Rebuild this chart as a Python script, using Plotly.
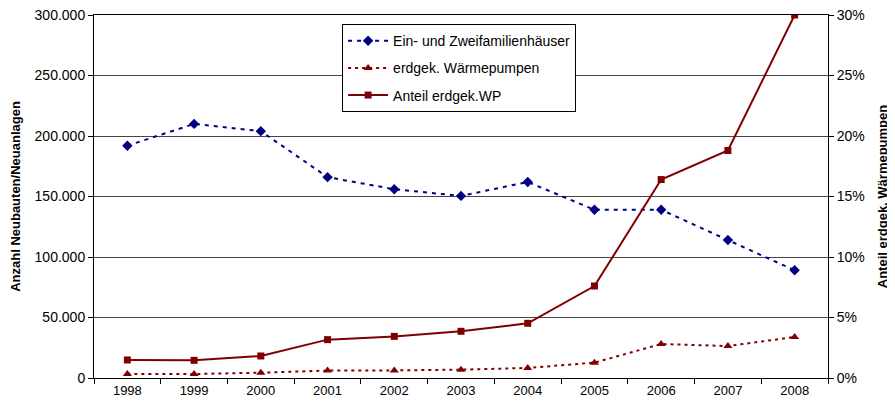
import plotly.graph_objects as go

years = ["1998", "1999", "2000", "2001", "2002", "2003", "2004", "2005", "2006", "2007", "2008"]
houses = [192000, 210000, 204000, 166000, 156000, 150500, 162000, 139000, 139000, 114000, 89000]
heat_pumps = [3300, 3300, 4400, 6100, 6300, 6900, 8300, 12700, 28100, 26400, 33900]
share = [0.0149, 0.0146, 0.0182, 0.0317, 0.0344, 0.0386, 0.0452, 0.076, 0.164, 0.188, 0.300]

left_ticks = [0, 50000, 100000, 150000, 200000, 250000, 300000]
right_ticks = [0, 0.05, 0.10, 0.15, 0.20, 0.25, 0.30]

blue = "#000080"
red = "#800000"
font = "Liberation Sans, Arial, sans-serif"

fig = go.Figure()
fig.add_trace(go.Scatter(
    x=years, y=houses, name="Ein- und Zweifamilienhäuser", mode="lines+markers",
    line=dict(color=blue, width=2, dash="4px,5px"),
    marker=dict(symbol="diamond", size=8, color=blue),
    legendgroup="a", yaxis="y"))
fig.add_trace(go.Scatter(
    x=years, y=heat_pumps, name="erdgek. Wärmepumpen", mode="lines+markers",
    line=dict(color=red, width=2, dash="3px,4px"),
    marker=dict(symbol="triangle-up", size=8, color=red),
    legendgroup="b", yaxis="y"))
fig.add_trace(go.Scatter(
    x=years, y=share, name="Anteil erdgek.WP", mode="lines+markers",
    line=dict(color=red, width=2),
    marker=dict(symbol="square", size=7, color=red),
    legendgroup="c", yaxis="y2"))

# page body has an 8px default margin, so the figure is 8px smaller each way
fig.update_layout(
    width=887, height=406,
    margin=dict(l=86, r=67, t=7, b=36, autoexpand=False),
    paper_bgcolor="white", plot_bgcolor="white",
    font=dict(family=font, size=13, color="black"),
    separators=",.",
    showlegend=True,
    legend=dict(
        x=0.338, y=0.975, xanchor="left", yanchor="top",
        bgcolor="white", bordercolor="black", borderwidth=1,
        font=dict(size=14), tracegroupgap=6,
        itemwidth=40,
    ),
    xaxis=dict(
        type="category", range=[-0.5, 10.5], automargin=False,
        showline=True, linecolor="black", linewidth=1, mirror=True,
        ticks="outside", ticklen=5, tickcolor="black", tickson="boundaries",
        showgrid=False, tickfont=dict(size=13),
    ),
    yaxis=dict(
        range=[0, 300000], tickvals=left_ticks, tickformat=",d", automargin=False,
        showline=True, linecolor="black", linewidth=1,
        ticks="outside", ticklen=5, tickcolor="black",
        showgrid=True, gridcolor="#444", gridwidth=1,
        zeroline=False, tickfont=dict(size=14), ticklabeloverflow="allow",
        title=dict(text="<b>Anzahl Neubauten/Neuanlagen</b>", font=dict(size=13), standoff=12),
    ),
    yaxis2=dict(
        range=[0, 0.30], tickvals=right_ticks, tickformat=".0%", automargin=False,
        overlaying="y", side="right",
        showline=True, linecolor="black", linewidth=1,
        ticks="outside", ticklen=5, tickcolor="black",
        showgrid=False, zeroline=False, tickfont=dict(size=14), ticklabeloverflow="allow",
        title=dict(text="<b>Anteil erdgek. Wärmepumpen</b>", font=dict(size=13), standoff=14),
    ),
)

fig.write_html("out.html")
